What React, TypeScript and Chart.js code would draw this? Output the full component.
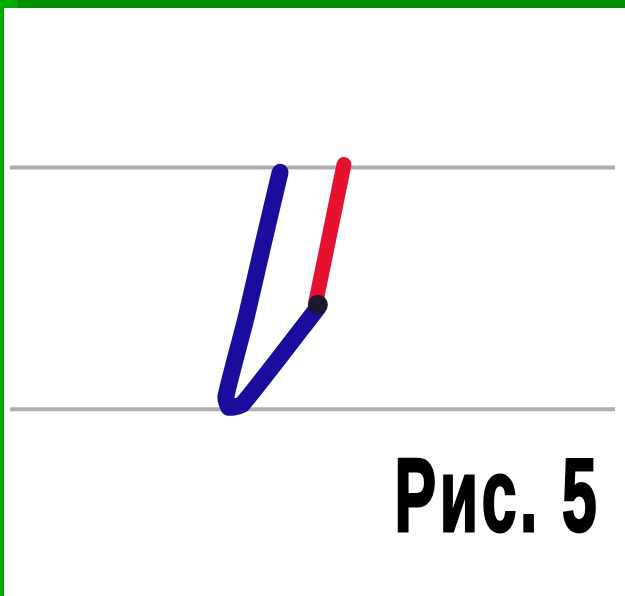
import React, { useEffect, useRef } from "react";
import { Chart, registerables } from "chart.js";

Chart.register(...registerables);

// Guide lines (page y of the two ruled lines)
const guideLevels = [163, 413];
const guideSpan = [0, 625];

// Blue stroke of the letter
const blueX = [279, 262, 244, 223, 226, 240, 318];
const blueY = [168, 240, 318, 400, 411, 408, 308];

// Red stroke
const redX = [316, 345];
const redY = [302, 160];

// Junction dot
const dotX = [318];
const dotY = [305];

const CAPTION = "Рис. 5";

const captionPlugin = {
  id: "caption",
  afterDraw(chart: any) {
    const { ctx } = chart;
    const xs = chart.scales.x;
    const ys = chart.scales.y;
    ctx.save();
    ctx.font = 'bold 104px "Liberation Sans Narrow", "Liberation Sans", Arial, sans-serif';
    const spacing = 6;
    try { (ctx as any).letterSpacing = spacing + "px"; } catch (e) {}
    ctx.fillStyle = "#000";
    ctx.strokeStyle = "#000";
    ctx.lineJoin = "miter";
    ctx.textBaseline = "alphabetic";
    const w = ctx.measureText(CAPTION).width - spacing;
    const right = xs.getPixelForValue(606);
    const base = ys.getPixelForValue(539);
    const targetW = 202;
    const s = targetW / w;
    ctx.translate(right - targetW, base);
    ctx.scale(s, 1);
    ctx.lineWidth = 3;
    ctx.fillText(CAPTION, 0, 0);
    ctx.strokeText(CAPTION, 0, 0);
    ctx.restore();
  },
};

export default function App() {
  const ref = useRef<HTMLCanvasElement | null>(null);
  useEffect(() => {
    if (!ref.current) return;
    const pts = (xs: number[], ys: number[]) => xs.map((x, i) => ({ x, y: ys[i] }));
    const guides = guideLevels.map((lv, i) => ({
      label: "guide" + i,
      data: guideSpan.map((x) => ({ x, y: lv })),
      showLine: true,
      clip: false,
      borderColor: "rgba(140,140,140,0.7)",
      borderWidth: 4,
      pointRadius: 0,
      order: 10,
    }));
    const chart = new Chart(ref.current, {
      type: "scatter",
      data: {
        datasets: [
          ...guides,
          {
            label: "blue",
            data: pts(blueX, blueY),
            showLine: true,
            borderColor: "#1a0d9e",
            borderWidth: 17,
            borderCapStyle: "round",
            borderJoinStyle: "round",
            tension: 0.15,
            pointRadius: 0,
            order: 5,
          },
          {
            label: "red",
            data: pts(redX, redY),
            showLine: true,
            borderColor: "#e5122f",
            borderWidth: 15,
            borderCapStyle: "round",
            pointRadius: 0,
            order: 4,
          },
          {
            label: "dot",
            data: pts(dotX, dotY),
            pointRadius: 10,
            pointBackgroundColor: "#1c1830",
            pointBorderWidth: 0,
            order: 1,
          },
        ] as any,
      },
      options: {
        animation: false,
        responsive: true,
        maintainAspectRatio: false,
        layout: { padding: 0 },
        plugins: { legend: { display: false }, tooltip: { enabled: false }, title: { display: false } },
        scales: {
          x: { type: "linear", min: 0, max: 625, display: false },
          y: { type: "linear", min: 0, max: 596, reverse: true, display: false },
        },
      },
      plugins: [captionPlugin],
    });
    return () => chart.destroy();
  }, []);

  return (
    <div style={{ position: "fixed", left: 0, top: 0, width: 625, height: 596, background: "#fff" }}>
      <canvas ref={ref} style={{ position: "absolute", left: 0, top: 0 }} />
      <div style={{ position: "absolute", left: 0, top: 0, width: 625, height: 8, background: "#008f00" }} />
      <div style={{ position: "absolute", left: 0, top: 0, width: 18, height: 8, background: "#00a800" }} />
      <div style={{ position: "absolute", left: 0, top: 0, width: 4, height: 596, background: "#00aa00" }} />
    </div>
  );
}
